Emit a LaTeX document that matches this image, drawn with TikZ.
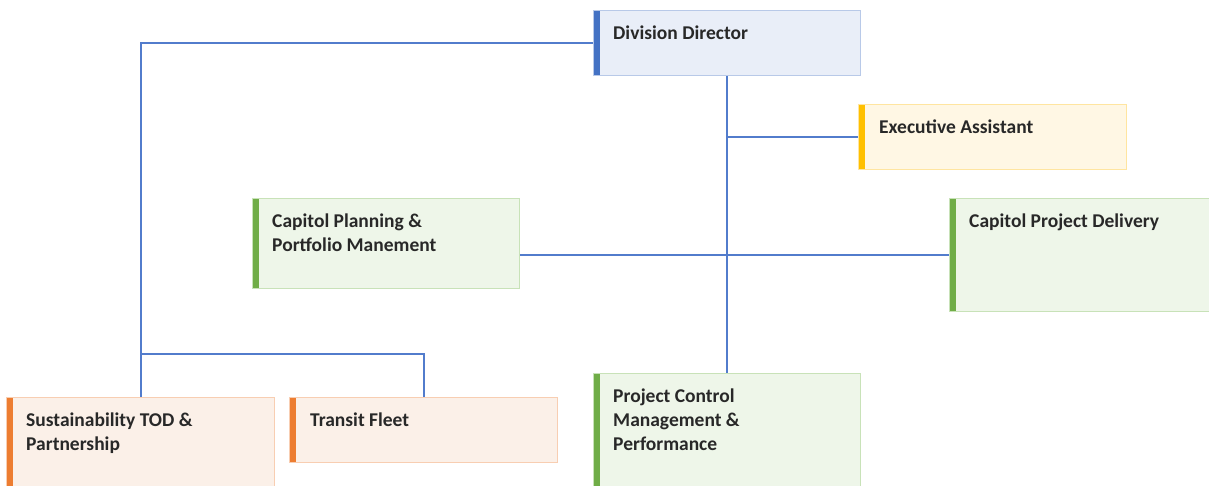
\documentclass[tikz,border=0pt]{standalone}
\usepackage{fontspec}
\setmainfont{Carlito}
\usetikzlibrary{calc}

\definecolor{linkblue}{RGB}{82,124,204}
\definecolor{txt}{RGB}{40,40,40}
\definecolor{bluefill}{RGB}{233,238,248}
\definecolor{blueedge}{RGB}{184,201,232}
\definecolor{bluebar}{RGB}{68,114,196}
\definecolor{yelfill}{RGB}{255,247,228}
\definecolor{yeledge}{RGB}{255,229,160}
\definecolor{yelbar}{RGB}{255,192,0}
\definecolor{grnfill}{RGB}{238,246,233}
\definecolor{grnedge}{RGB}{200,226,184}
\definecolor{grnbar}{RGB}{112,173,71}
\definecolor{orgfill}{RGB}{251,240,232}
\definecolor{orgedge}{RGB}{248,206,178}
\definecolor{orgbar}{RGB}{237,125,49}

\tikzset{
  card/.style={rectangle, anchor=north west, inner sep=0pt, line width=1pt},
  cardcol/.style n args={3}{card, fill=#1, draw=#2,
    path picture={\fill[#3] (path picture bounding box.north west)
      rectangle ([xshift=6pt]path picture bounding box.south west);}},
  bluecard/.style={cardcol={bluefill}{blueedge}{bluebar}},
  yelcard/.style={cardcol={yelfill}{yeledge}{yelbar}},
  grncard/.style={cardcol={grnfill}{grnedge}{grnbar}},
  orgcard/.style={cardcol={orgfill}{orgedge}{orgbar}},
  lbl/.style={anchor=north west, inner sep=0pt, align=left, text=txt,
    font=\fontsize{19.5}{24}\selectfont\bfseries},
  link/.style={draw=linkblue, line width=1.6pt}
}

\begin{document}
\begin{tikzpicture}[x=1pt, y=-1pt]
\useasboundingbox (0,0) rectangle (1209,485);
\clip (0,0) rectangle (1209,485);

% boxes
\node[bluecard, minimum width=267pt, minimum height=65pt] (dd) at (593,10) {};
\node[yelcard, minimum width=268pt, minimum height=65pt] (ea) at (858,104) {};
\node[grncard, minimum width=267pt, minimum height=90pt] (cppm) at (252,198) {};
\node[grncard, minimum width=270pt, minimum height=113pt] (cpd) at (949,198) {};
\node[orgcard, minimum width=268pt, minimum height=113pt] (sus) at (6,397) {};
\node[orgcard, minimum width=268pt, minimum height=65pt] (tf) at (289,397) {};
\node[grncard, minimum width=267pt, minimum height=113pt] (pcm) at (593,373) {};

% labels
\node[lbl] (ddt) at ($(dd.north west)+(20,12)$) {\strut Division Director};
\node[lbl] (eat) at ($(ea.north west)+(21,12)$) {\strut Executive Assistant};
\node[lbl] (cppmt) at ($(cppm.north west)+(20,12)$) {\strut Capitol Planning \&\\Portfolio Manement};
\node[lbl] (cpdt) at ($(cpd.north west)+(20,12)$) {\strut Capitol Project Delivery};
\node[lbl] (sust) at ($(sus.north west)+(20,12)$) {\strut Sustainability TOD \&\\Partnership};
\node[lbl] (tft) at ($(tf.north west)+(21,12)$) {\strut Transit Fleet};
\node[lbl] (pcmt) at ($(pcm.north west)+(20,12)$) {\strut Project Control\\Management \&\\Performance};

% connectors
\coordinate (split) at (141,354);
\draw[link] (dd.west |- 0,43) -| (sus.north -| split);
\draw[link] (split) -| (tf.north -| 424,0);
\draw[link] (dd.south -| 727,0) -- (pcm.north -| 727,0);
\draw[link] (727,137) -- (ea.west |- 0,137);
\draw[link] (cppm.east |- 0,255) -- (cpd.west |- 0,255);
\end{tikzpicture}
\end{document}
